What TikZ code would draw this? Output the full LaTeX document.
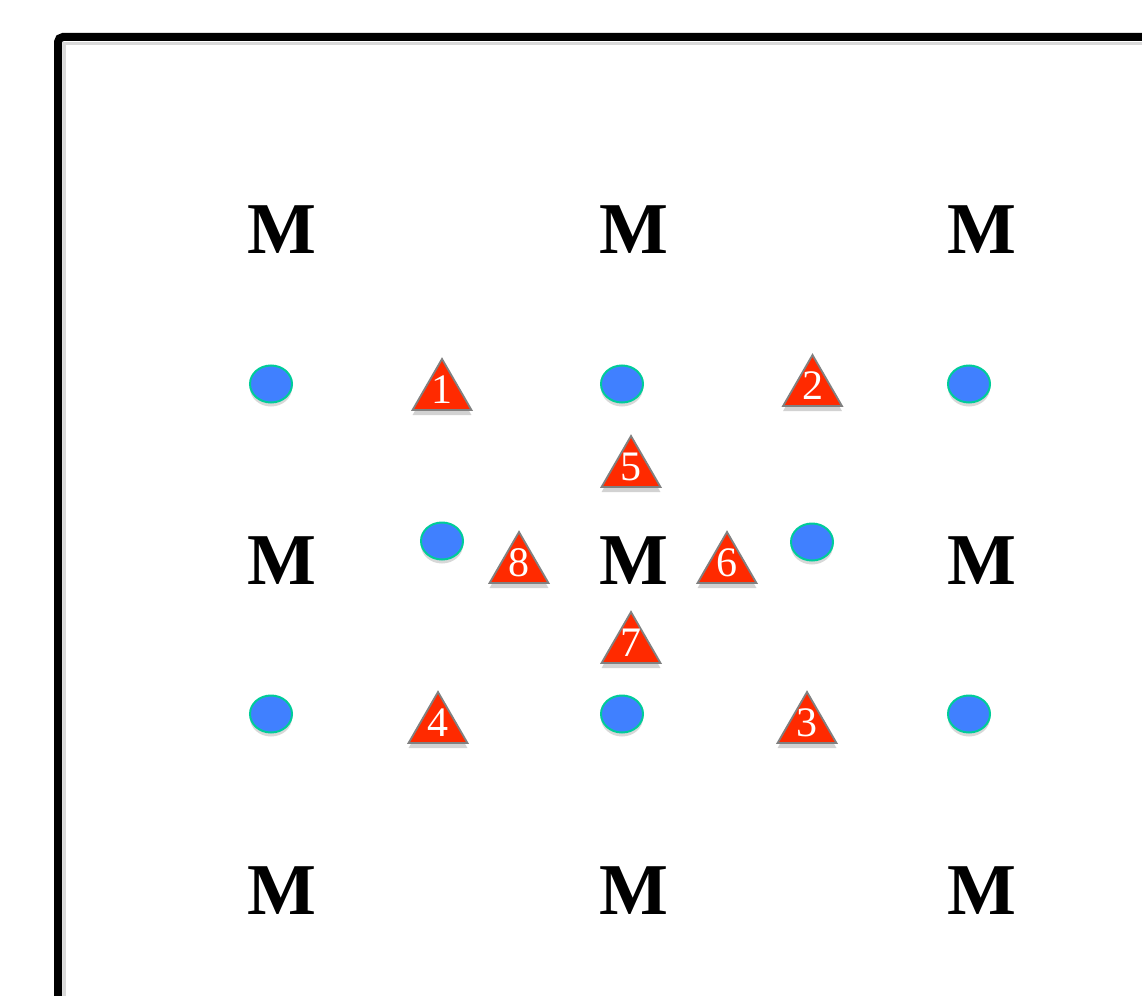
\documentclass[tikz,border=0pt]{standalone}
\usepackage{fontspec}
\setmainfont{Liberation Serif}
\usetikzlibrary{shapes.geometric,shadows}
\definecolor{dotblue}{HTML}{4080FF}
\definecolor{dotedge}{HTML}{00CC99}
\definecolor{trired}{HTML}{FF2A00}
\definecolor{triedge}{HTML}{808080}
\tikzset{
  mlabel/.style={font=\bfseries\fontsize{73}{73}\selectfont, inner sep=0pt},
  dot/.style={ellipse, draw=dotedge, line width=2pt, fill=dotblue, minimum width=42pt, minimum height=37pt, inner sep=0pt,
    drop shadow={opacity=0.3, shadow xshift=0pt, shadow yshift=-4pt}},
  tri/.style={regular polygon, regular polygon sides=3, draw=triedge, line width=1.8pt, fill=trired, minimum size=68pt, inner sep=0pt,
    drop shadow={opacity=0.35, shadow xshift=0pt, shadow yshift=-5pt}},
  num/.style={text=white, font=\fontsize{42}{42}\selectfont, inner sep=0pt, anchor=base},
  frame/.style={line width=8pt, rounded corners=5pt},
  frameshade/.style={line width=3pt, draw=black!15}
}
\begin{document}
\begin{tikzpicture}[x=1pt,y=-1pt]
\useasboundingbox (0,0) rectangle (1142,995);
\fill[white] (0,0) rectangle (1142,995);
\begin{scope}
\clip (0,0) rectangle (1142,995);
\draw[frameshade] (64,1040) -- (64,44) -- (1180,44);
\draw[frame] (58,37) rectangle (1180,1040);
\end{scope}
% M labels
\node[mlabel] (m11) at (282,230) {M};
\node[mlabel] (m12) at (634,230) {M};
\node[mlabel] (m13) at (982,230) {M};
\node[mlabel] (m21) at (282,561) {M};
\node[mlabel] (m22) at (634,561) {M};
\node[mlabel] (m23) at (982,561) {M};
\node[mlabel] (m31) at (282,891) {M};
\node[mlabel] (m32) at (634,891) {M};
\node[mlabel] (m33) at (982,891) {M};
% dots
\node[dot] (d1) at (271,384) {};
\node[dot] (d2) at (622,384) {};
\node[dot] (d3) at (969,384) {};
\node[dot] (d4) at (442,541) {};
\node[dot] (d5) at (812,542) {};
\node[dot] (d6) at (271,714) {};
\node[dot] (d7) at (622,714) {};
\node[dot] (d8) at (969,714) {};
% triangles
\node[tri] (t1) at (442,393) {};
\node[tri] (t2) at (812.5,389) {};
\node[tri] (t3) at (807,726) {};
\node[tri] (t4) at (438,726) {};
\node[tri] (t5) at (631,470) {};
\node[tri] (t6) at (727,566) {};
\node[tri] (t7) at (631,646) {};
\node[tri] (t8) at (519,566) {};
\node[num] (n1) at ([yshift=-10pt]t1.center) {1};
\node[num] (n2) at ([yshift=-10pt]t2.center) {2};
\node[num] (n3) at ([yshift=-10pt]t3.center) {3};
\node[num] (n4) at ([yshift=-10pt]t4.center) {4};
\node[num] (n5) at ([yshift=-10pt]t5.center) {5};
\node[num] (n6) at ([yshift=-10pt]t6.center) {6};
\node[num] (n7) at ([yshift=-10pt]t7.center) {7};
\node[num] (n8) at ([yshift=-10pt]t8.center) {8};
\end{tikzpicture}
\end{document}
